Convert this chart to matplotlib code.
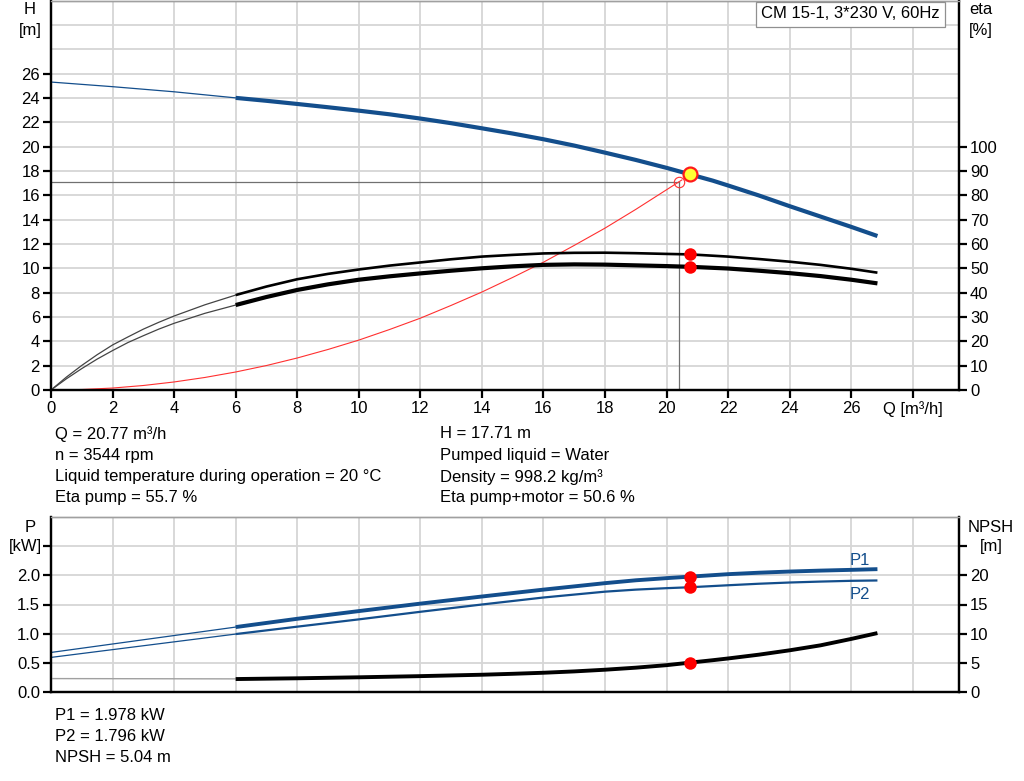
import matplotlib
matplotlib.use("Agg")
import matplotlib.pyplot as plt

plt.rcParams['font.family'] = ['Liberation Sans', 'DejaVu Sans']
FS = 12
plt.rcParams['font.size'] = FS

BLUE = '#134e8c'
GRID = '#d6d6d6'

# ---------------- data ----------------
Q_head_thin = [0, 2, 4, 6]
H_head_thin = [25.3, 24.92, 24.5, 24.0]
Q_head = [6, 7, 8, 9, 10, 11, 12, 13, 14, 15, 16, 17, 18, 19, 20, 20.77, 21.5, 22, 23, 24, 25, 26, 26.85]
H_head = [24.0, 23.76, 23.5, 23.23, 22.95, 22.65, 22.3, 21.92, 21.5, 21.07, 20.6, 20.08, 19.5,
          18.9, 18.25, 17.71, 17.2, 16.8, 15.98, 15.1, 14.25, 13.4, 12.65]

Q_eta_thin = [0, 0.5, 1, 1.5, 2, 2.5, 3, 3.5, 4, 5, 6]
eta_pump_thin = [0, 5.3, 10.1, 14.5, 18.5, 21.8, 25, 27.8, 30.4, 35, 39]
eta_tot_thin = [0, 4.6, 8.8, 12.7, 16.2, 19.5, 22.3, 25, 27.4, 31.5, 34.9]
Q_eta = [6, 7, 8, 9, 10, 11, 12, 13, 14, 15, 16, 17, 18, 19, 20, 20.77, 22, 23, 24, 25, 26, 26.85]
eta_pump = [39, 42.5, 45.5, 47.7, 49.5, 51.1, 52.4, 53.7, 54.8, 55.5, 56.1, 56.35, 56.4, 56.2,
            55.9, 55.7, 54.8, 53.8, 52.7, 51.4, 49.8, 48.2]
eta_tot = [34.9, 38.2, 41.1, 43.4, 45.3, 46.7, 47.9, 49.0, 50, 50.8, 51.4, 51.6, 51.5, 51.2,
           50.9, 50.6, 49.9, 49.0, 48.0, 46.8, 45.3, 43.8]

Q_sys = [0, 1, 2, 3, 4, 5, 6, 7, 8, 9, 10, 11, 12, 13, 14, 15, 16, 17, 18, 19, 20.4]
H_sys = [0, 0.04, 0.16, 0.37, 0.66, 1.03, 1.48, 2.01, 2.63, 3.33, 4.1, 4.97, 5.9, 6.95, 8.05,
         9.25, 10.5, 11.88, 13.3, 14.84, 17.1]
sys_Q, sys_H = 20.4, 17.1

duty_Q, duty_H = 20.77, 17.71
duty_eta_pump, duty_eta_tot = 55.7, 50.6
duty_P1, duty_P2, duty_NPSH = 1.978, 1.796, 5.04

Q_P_thin = [0, 6]
P1_thin = [0.678, 1.113]
P2_thin = [0.593, 0.993]
Q_P = [6, 8, 10, 12, 14, 16, 18, 19, 20, 20.77, 22, 23, 24, 25, 26, 26.85]
P1 = [1.113, 1.255, 1.387, 1.515, 1.637, 1.755, 1.866, 1.915, 1.952, 1.978, 2.02, 2.045, 2.065,
      2.081, 2.094, 2.106]
P2 = [0.993, 1.12, 1.245, 1.375, 1.5, 1.62, 1.72, 1.755, 1.78, 1.796, 1.83, 1.856, 1.877,
      1.893, 1.906, 1.912]

Q_npsh_thin = [0, 6]
npsh_thin = [2.3, 2.25]
Q_npsh = [6, 8, 10, 12, 14, 15, 16, 17, 18, 19, 20, 20.77, 21.5, 22, 23, 24, 25, 26, 26.85]
npsh = [2.22, 2.35, 2.52, 2.72, 2.96, 3.12, 3.3, 3.53, 3.82, 4.17, 4.6, 5.04, 5.45, 5.75, 6.4,
        7.15, 8.0, 9.1, 10.1]

x_ticks = list(range(0, 30, 2))
x_labels = [str(v) for v in range(0, 28, 2)] + ['Q [m³/h]']
h_ticks = list(range(0, 28, 2))
eta_ticks = list(range(0, 110, 10))
p_ticks = [0.0, 0.5, 1.0, 1.5, 2.0, 2.5]
p_labels = ['0.0', '0.5', '1.0', '1.5', '2.0', '']
npsh_ticks = [0, 5, 10, 15, 20, 25]
npsh_labels = ['0', '5', '10', '15', '20', '']

title_text = 'CM 15-1, 3*230 V, 60Hz'
info_left = ['Q = 20.77 m³/h', 'n = 3544 rpm',
             'Liquid temperature during operation = 20 °C', 'Eta pump = 55.7 %']
info_right = ['H = 17.71 m', 'Pumped liquid = Water',
              'Density = 998.2 kg/m³', 'Eta pump+motor = 50.6 %']
info_bottom = ['P1 = 1.978 kW', 'P2 = 1.796 kW', 'NPSH = 5.04 m']

# ---------------- figure ----------------
W, Hpx = 1024, 781
fig = plt.figure(figsize=(W / 100, Hpx / 100), dpi=100)

def rect(l, t, r, b):
    return [l / W, 1 - b / Hpx, (r - l) / W, (b - t) / Hpx]

def style(ax):
    for s in ['left', 'right', 'bottom']:
        ax.spines[s].set_color('black')
        ax.spines[s].set_linewidth(1.6)
    ax.spines['top'].set_color('#a0a0a0')
    ax.spines['top'].set_linewidth(1.0)

# ---- top axes ----
ax = fig.add_axes(rect(51, 0.5, 959, 390))
ax.set_xlim(0, 29.5)
ax.set_ylim(0, 32)
ax.set_xticks(x_ticks)
ax.set_xticklabels(x_labels)
ax.set_yticks(h_ticks)
ax.set_yticks([28, 30], minor=True)
ax.tick_params(which='major', direction='out', length=6, width=1.6, pad=2, labelsize=FS)
ax.tick_params(which='minor', length=0)
ax.grid(True, which='both', color=GRID, lw=1.3)
ax.set_axisbelow(True)
style(ax)

ax.plot(Q_head_thin, H_head_thin, color=BLUE, lw=0.9, zorder=3)
ax.plot(Q_head, H_head, color=BLUE, lw=3.0, zorder=3, solid_capstyle='butt', solid_joinstyle='round')
ax.plot(Q_sys, H_sys, color='#ff3030', lw=0.8, zorder=3)
ax.plot([sys_Q, duty_Q], [sys_H, duty_H], color='#ff3030', lw=0.8, ls='--', zorder=3)
ax.plot([0, sys_Q], [sys_H, sys_H], color='#707070', lw=0.9, zorder=2)
ax.plot([sys_Q, sys_Q], [0, sys_H], color='#707070', lw=0.9, zorder=2)
ax.plot([sys_Q], [sys_H], 'o', ms=7.5, mfc='none', mec='#ff3030', mew=0.8, zorder=4)
ax.plot([duty_Q], [duty_H], 'o', ms=10, mfc='#ffff33', mec='#ff1a1a', mew=1.6, zorder=6)

axr = ax.twinx()
axr.set_ylim(0, 160)
axr.set_yticks(eta_ticks)
axr.tick_params(direction='out', length=6, width=1.6, pad=2, labelsize=FS)
style(axr)
axr.plot(Q_eta_thin, eta_pump_thin, color='#444444', lw=0.9)
axr.plot(Q_eta_thin, eta_tot_thin, color='#444444', lw=0.9)
axr.plot(Q_eta, eta_pump, color='black', lw=1.9, solid_capstyle='butt', solid_joinstyle='round')
axr.plot(Q_eta, eta_tot, color='black', lw=3.0, solid_capstyle='butt', solid_joinstyle='round')
axr.plot([duty_Q, duty_Q], [duty_eta_pump, duty_eta_tot], 'o', ms=9, color='#ff0000', mec='none', zorder=5)

fig.text(30 / W, 1 - 10 / Hpx, 'H', ha='center', va='center', fontsize=FS)
fig.text(30 / W, 1 - 30 / Hpx, '[m]', ha='center', va='center', fontsize=FS)
fig.text(981 / W, 1 - 10 / Hpx, 'eta', ha='center', va='center', fontsize=FS)
fig.text(981 / W, 1 - 30 / Hpx, '[%]', ha='center', va='center', fontsize=FS)

fig.text(761 / W, 1 - 14 / Hpx, title_text, ha='left', va='center', fontsize=FS,
         bbox=dict(boxstyle='square,pad=0.3', fc='white', ec='#909090', lw=0.9))

for i, t in enumerate(info_left):
    fig.text(55 / W, 1 - (434 + i * 21.3) / Hpx, t, ha='left', va='center', fontsize=FS)
for i, t in enumerate(info_right):
    fig.text(440 / W, 1 - (434 + i * 21.3) / Hpx, t, ha='left', va='center', fontsize=FS)

# ---- bottom axes ----
bx = fig.add_axes(rect(51, 517, 959, 692))
bx.set_xlim(0, 29.5)
bx.set_ylim(0, 3.0)
bx.set_xticks(x_ticks)
bx.set_xticklabels([])
bx.tick_params(axis='x', length=0)
bx.set_yticks(p_ticks)
bx.set_yticklabels(p_labels)
bx.tick_params(axis='y', direction='out', length=6, width=1.6, pad=2, labelsize=FS)
bx.grid(True, color=GRID, lw=1.3)
bx.set_axisbelow(True)
style(bx)

bx.plot(Q_P_thin, P1_thin, color=BLUE, lw=0.9)
bx.plot(Q_P_thin, P2_thin, color=BLUE, lw=0.9)
bx.plot(Q_P, P1, color=BLUE, lw=2.8, solid_capstyle='butt', solid_joinstyle='round')
bx.plot(Q_P, P2, color=BLUE, lw=1.6, solid_capstyle='butt', solid_joinstyle='round')
bx.plot([duty_Q, duty_Q], [duty_P1, duty_P2], 'o', ms=9, color='#ff0000', mec='none', zorder=5)
bx.text(25.95, 2.25, 'P1', color=BLUE, fontsize=FS, ha='left', va='center')
bx.text(25.95, 1.67, 'P2', color=BLUE, fontsize=FS, ha='left', va='center')

bxr = bx.twinx()
bxr.set_ylim(0, 30)
bxr.set_yticks(npsh_ticks)
bxr.set_yticklabels(npsh_labels)
bxr.tick_params(direction='out', length=6, width=1.6, pad=2, labelsize=FS)
style(bxr)
bxr.plot(Q_npsh_thin, npsh_thin, color='#a0a0a0', lw=1.0)
bxr.plot(Q_npsh, npsh, color='black', lw=2.8, solid_capstyle='butt', solid_joinstyle='round')
bxr.plot([duty_Q], [duty_NPSH], 'o', ms=9, color='#ff0000', mec='none', zorder=5)

fig.text(30 / W, 1 - 527 / Hpx, 'P', ha='center', va='center', fontsize=FS)
fig.text(25 / W, 1 - 547 / Hpx, '[kW]', ha='center', va='center', fontsize=FS)
fig.text(991 / W, 1 - 527 / Hpx, 'NPSH', ha='center', va='center', fontsize=FS)
fig.text(991 / W, 1 - 547 / Hpx, '[m]', ha='center', va='center', fontsize=FS)

for i, t in enumerate(info_bottom):
    fig.text(55 / W, 1 - (715 + i * 21.3) / Hpx, t, ha='left', va='center', fontsize=FS)

fig.savefig('out.png', dpi=100)
